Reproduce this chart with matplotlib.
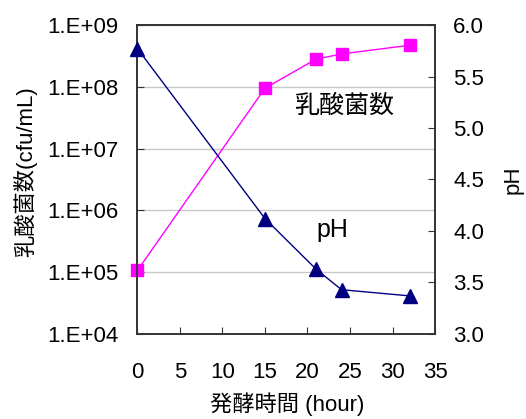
import numpy as np
import matplotlib.pyplot as plt

plt.rcParams['font.family'] = ['Liberation Sans', 'Noto Sans CJK JP', 'DejaVu Sans']

# fermentation time (hour)
hours = [0, 15, 21, 24, 32]
# lactic acid bacteria count (cfu/mL)
bacteria = [1.07e5, 9.5e7, 2.8e8, 3.4e8, 4.7e8]
# pH
ph = [5.77, 4.12, 3.63, 3.43, 3.37]

left_ticks = [1e4, 1e5, 1e6, 1e7, 1e8, 1e9]
left_labels = ['1.E+04', '1.E+05', '1.E+06', '1.E+07', '1.E+08', '1.E+09']
ph_ticks = [3.0, 3.5, 4.0, 4.5, 5.0, 5.5, 6.0]
x_ticks = [0, 5, 10, 15, 20, 25, 30, 35]

fig = plt.figure(figsize=(5.26, 4.19), dpi=100)
ax = fig.add_axes([0.2614, 0.2029, 0.5656, 0.7374])

ax.set_yscale('log')
ax.set_ylim(1e4, 1e9)
ax.set_xlim(0, 35)
ax.set_yticks(left_ticks)
ax.set_yticklabels(left_labels)
ax.minorticks_off()
ax.set_xticks(x_ticks)
ax.grid(axis='y', color='#c8c8c8', linewidth=1)
ax.set_axisbelow(True)
ax.tick_params(direction='in', length=5, labelsize=16, color='#333333')
ax.tick_params(axis='y', pad=14)
ax.tick_params(axis='x', pad=20)

ax.plot(hours, bacteria, color='#ff00ff', linewidth=1, marker='s',
        markersize=9, markerfacecolor='#ff00ff', markeredgecolor='#ff00ff',
        clip_on=False, zorder=3)

ax.set_ylabel('乳酸菌数(cfu/mL)', fontsize=16)
ax.yaxis.set_label_coords(-0.338, 0.525)
ax.set_xlabel('発酵時間 (hour)', fontsize=16)
ax.xaxis.set_label_coords(0.5025, -0.19)

ax2 = ax.twinx()
ax2.set_ylim(3.0, 6.0)
ax2.set_yticks(ph_ticks)
ax2.set_yticklabels([f'{v:.1f}' for v in ph_ticks])
ax2.tick_params(direction='in', length=5, labelsize=16, pad=13, color='#333333')
ax2.plot(hours, ph, color='#000080', linewidth=1, marker='^',
         markersize=10, markerfacecolor='#000080', markeredgecolor='#000080',
         clip_on=False, zorder=3)
ax2.set_ylabel('pH', fontsize=16)
ax2.yaxis.set_label_coords(1.2286, 0.498)

for a in (ax, ax2):
    for s in a.spines.values():
        s.set_color('#333333')
        s.set_linewidth(1.2)

ax.text(24.3, 5.0e7, '乳酸菌数', fontsize=18, ha='center', va='center')
ax2.text(22.9, 4.01, 'pH', fontsize=18, ha='center', va='center')

fig.savefig('out.png', dpi=100)
